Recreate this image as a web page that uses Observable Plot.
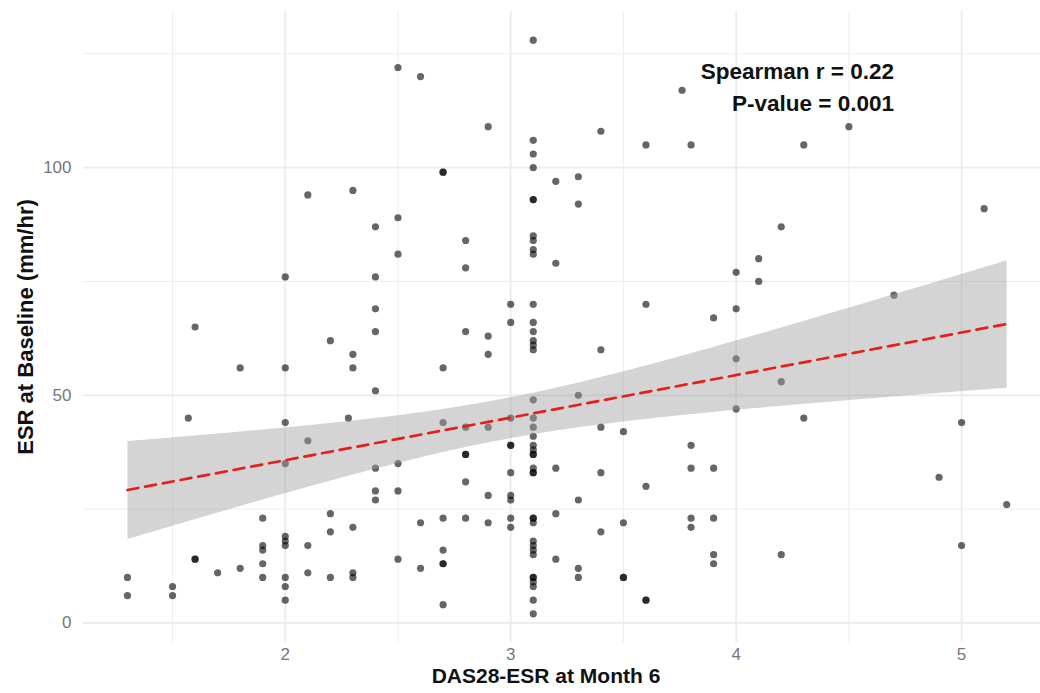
<!DOCTYPE html>
<html>
<head>
<meta charset="utf-8">
<script src="https://cdn.jsdelivr.net/npm/d3@7"></script>
<script src="https://cdn.jsdelivr.net/npm/@observablehq/plot@0.6"></script>
<style>
  html, body { margin: 0; padding: 0; background: #fff; }
  #chart { width: 1040px; height: 693px; }
</style>
</head>
<body>
<div id="chart"></div>
<script>
// DAS28-ESR at month 6 (x) and ESR at baseline (y), one entry per patient
const das28 = [
  1.3, 1.3,
  1.5, 1.5,
  1.57,
  1.6, 1.6, 1.6,
  1.7,
  1.8, 1.8,
  1.9, 1.9, 1.9, 1.9, 1.9,
  2.0, 2.0, 2.0, 2.0, 2.0, 2.0, 2.0, 2.0, 2.0, 2.0,
  2.1, 2.1, 2.1, 2.1,
  2.2, 2.2, 2.2, 2.2,
  2.28,
  2.3, 2.3, 2.3, 2.3, 2.3, 2.3,
  2.4, 2.4, 2.4, 2.4, 2.4, 2.4, 2.4, 2.4,
  2.5, 2.5, 2.5, 2.5, 2.5, 2.5,
  2.6, 2.6, 2.6,
  2.7, 2.7, 2.7, 2.7, 2.7, 2.7, 2.7, 2.7, 2.7,
  2.8, 2.8, 2.8, 2.8, 2.8, 2.8, 2.8, 2.8,
  2.9, 2.9, 2.9, 2.9, 2.9, 2.9,
  3.0, 3.0, 3.0, 3.0, 3.0, 3.0, 3.0, 3.0, 3.0, 3.0,
  3.1, 3.1, 3.1, 3.1, 3.1, 3.1, 3.1, 3.1, 3.1, 3.1,
  3.1, 3.1, 3.1, 3.1, 3.1, 3.1, 3.1, 3.1, 3.1, 3.1,
  3.1, 3.1, 3.1, 3.1, 3.1, 3.1, 3.1, 3.1, 3.1, 3.1,
  3.1, 3.1, 3.1, 3.1, 3.1, 3.1, 3.1, 3.1, 3.1, 3.1,
  3.2, 3.2, 3.2, 3.2, 3.2,
  3.3, 3.3, 3.3, 3.3, 3.3, 3.3,
  3.4, 3.4, 3.4, 3.4, 3.4,
  3.5, 3.5, 3.5, 3.5,
  3.6, 3.6, 3.6, 3.6, 3.6,
  3.76,
  3.8, 3.8, 3.8, 3.8, 3.8,
  3.9, 3.9, 3.9, 3.9, 3.9,
  4.0, 4.0, 4.0, 4.0,
  4.1, 4.1,
  4.2, 4.2, 4.2,
  4.3, 4.3,
  4.5,
  4.7,
  4.9,
  5.0, 5.0,
  5.1,
  5.2
];
const esr = [
  10, 6,
  8, 6,
  45,
  65, 14, 14,
  11,
  56, 12,
  23, 17, 16, 13, 10,
  76, 56, 44, 35, 19, 18, 17, 10, 8, 5,
  94, 40, 17, 11,
  62, 24, 20, 10,
  45,
  95, 59, 56, 21, 11, 10,
  87, 76, 69, 64, 51, 34, 29, 27,
  122, 89, 81, 35, 29, 14,
  120, 22, 12,
  99, 99, 56, 44, 23, 16, 13, 13, 4,
  84, 78, 64, 43, 37, 37, 31, 23,
  109, 63, 59, 43, 28, 22,
  70, 66, 45, 39, 39, 33, 28, 27, 23, 21,
  128, 106, 103, 100, 93, 93, 85, 84, 82, 81,
  70, 66, 64, 62, 61, 60, 49, 45, 43, 41,
  39, 38, 37, 37, 34, 33, 33, 23, 23, 22,
  18, 17, 16, 15, 10, 10, 9, 8, 5, 2,
  97, 79, 34, 24, 14,
  98, 92, 50, 27, 12, 10,
  108, 60, 43, 33, 20,
  42, 22, 10, 10,
  105, 70, 30, 5, 5,
  117,
  105, 39, 34, 23, 21,
  67, 34, 23, 15, 13,
  77, 69, 58, 47,
  80, 75,
  87, 53, 15,
  105, 45,
  109,
  72,
  32,
  44, 17,
  91,
  26
];
const xTicks = [2, 3, 4, 5];
const xMinorTicks = [1.5, 2.5, 3.5, 4.5];
const yTicks = [0, 50, 100];
const yMinorTicks = [25, 75, 125];
const statLabels = ["Spearman r = 0.22", "P-value = 0.001"];
const xTitle = "DAS28-ESR at Month 6";
const yTitle = "ESR at Baseline (mm/hr)";

const data = das28.map((x, i) => ({x, y: esr[i]}));
const gridColor = "#ebebeb";

const chart = Plot.plot({
  width: 1040,
  height: 693,
  marginLeft: 83,
  marginRight: 0,
  marginTop: 11,
  marginBottom: 51,
  style: {fontFamily: "'Liberation Sans', Arial, sans-serif", background: "#fff"},
  x: {domain: [1.105, 5.35]},
  y: {domain: [-4.3, 134.3]},
  marks: [
    Plot.gridX(xMinorTicks, {stroke: gridColor, strokeOpacity: 1, strokeWidth: 0.9}),
    Plot.gridY(yMinorTicks, {stroke: gridColor, strokeOpacity: 1, strokeWidth: 0.9}),
    Plot.gridX(xTicks, {stroke: gridColor, strokeOpacity: 1, strokeWidth: 1.7}),
    Plot.gridY(yTicks, {stroke: gridColor, strokeOpacity: 1, strokeWidth: 1.7}),
    Plot.axisX(xTicks, {tickSize: 0, tickPadding: 5, fontSize: 17, fill: "#777", label: null, tickFormat: d => String(d)}),
    Plot.axisY(yTicks, {tickSize: 0, tickPadding: 12, fontSize: 17, fill: "#777", label: null, tickFormat: d => String(d)}),
    Plot.dot(data, {x: "x", y: "y", r: 3.6, fill: "#000", fillOpacity: 0.6, stroke: "none"}),
    Plot.linearRegressionY(data, {
      x: "x", y: "y",
      stroke: "#e3201b", strokeWidth: 2.7, strokeDasharray: "11,7",
      fill: "#a0a0a0", fillOpacity: 0.45
    }),
    Plot.text([statLabels[0]], {x: 4.7, y: 121.1, text: d => d, textAnchor: "end", fontSize: 22.5, fontWeight: "bold", fill: "#111"}),
    Plot.text([statLabels[1]], {x: 4.7, y: 114.1, text: d => d, textAnchor: "end", fontSize: 22.5, fontWeight: "bold", fill: "#111"}),
    Plot.text([xTitle], {frameAnchor: "bottom", dy: 40, dx: -16, textAnchor: "middle", text: d => d, fontSize: 21, fontWeight: "bold", fill: "#111"}),
    Plot.text([yTitle], {frameAnchor: "left", dx: -58, textAnchor: "middle", rotate: -90, text: d => d, fontSize: 22, fontWeight: "bold", fill: "#111"})
  ]
});
document.getElementById("chart").appendChild(chart);
</script>
</body>
</html>
